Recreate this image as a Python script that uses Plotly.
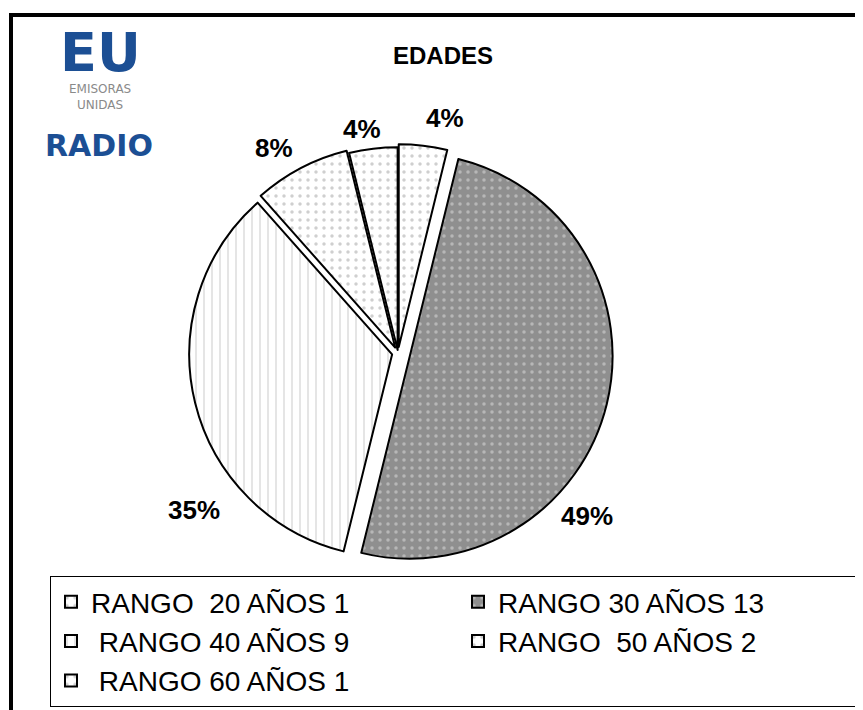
import math
import plotly.graph_objects as go

categories = ["RANGO  20 AÑOS 1", "RANGO 30 AÑOS 13", " RANGO 40 AÑOS 9", "RANGO  50 AÑOS 2", " RANGO 60 AÑOS 1"]
values = [1, 13, 9, 2, 1]
pct_labels = ["4%", "49%", "35%", "8%", "4%"]

pulls = [0.03, 0.06, 0.03, 0.03, 0.015]
bg_colors = ["#ffffff", "#8f8f8f", "#ffffff", "#ffffff", "#ffffff"]
fg_colors = ["#a0a0a0", "#e0e0e0", "#a8a8a8", "#a0a0a0", "#a0a0a0"]
shapes_pat = [".", ".", "|", ".", "."]
# where each percentage label sits: fraction along its slice's arc, distance / radius
label_frac = [0.82, 0.65, 0.31, 0.37, 0.34]
label_dist = [1.18, 1.23, 1.27, 1.18, 1.12]

# page body adds an 8px offset; figure fills the rest of the window
OFF = 8
W, H = 863 - OFF, 710 - OFF


def X(px):
    return (px - OFF) / W


def Y(py):
    return 1 - (py - OFF) / H


PIE_L, PIE_R, PIE_T, PIE_B = 183, 613, 138, 568

fig = go.Figure()
fig.add_trace(go.Pie(
    labels=categories,
    values=values,
    textinfo="none",
    sort=False,
    direction="clockwise",
    rotation=0,
    pull=pulls,
    marker=dict(
        colors=bg_colors,
        line=dict(color="black", width=2),
        pattern=dict(shape=shapes_pat, bgcolor=bg_colors, fgcolor=fg_colors,
                     size=8, solidity=0.15, fillmode="overlay"),
    ),
    domain=dict(x=[X(PIE_L), X(PIE_R)], y=[Y(PIE_B), Y(PIE_T)]),
    hoverinfo="label+percent",
))

# percentage labels placed around the pie from the cumulative values
cx, cy = (PIE_L + PIE_R) / 2, (PIE_T + PIE_B) / 2
radius = (PIE_R - PIE_L) / (2 * (1 + max(pulls)))
total = sum(values)
annotations = []
cum = 0
for v, lab, fr, dist in zip(values, pct_labels, label_frac, label_dist):
    a0 = cum / total * 2 * math.pi
    a1 = (cum + v) / total * 2 * math.pi
    cum += v
    ang = a0 + fr * (a1 - a0)
    px = cx + dist * radius * math.sin(ang)
    py = cy - dist * radius * math.cos(ang)
    annotations.append(dict(text=f"<b>{lab}</b>", x=X(px), y=Y(py), xref="paper", yref="paper",
                            xanchor="center", yanchor="middle", showarrow=False,
                            font=dict(family="Liberation Sans", size=26, color="black")))

annotations += [
    dict(text="<b>EDADES</b>", x=X(443), y=Y(55), xref="paper", yref="paper",
         xanchor="center", yanchor="middle", showarrow=False,
         font=dict(family="Liberation Sans", size=24, color="black")),
    dict(text="<b>EU</b>", x=X(100), y=Y(52), xref="paper", yref="paper",
         xanchor="center", yanchor="middle", showarrow=False, height=46,
         font=dict(family="DejaVu Sans", size=54, color="#1c4f94")),
    dict(text="EMISORAS<br>UNIDAS", x=X(100), y=Y(97), xref="paper", yref="paper",
         xanchor="center", yanchor="middle", showarrow=False, align="center", height=30,
         font=dict(family="DejaVu Sans", size=12, color="#8a8a8a")),
    dict(text="<b>RADIO</b>", x=X(99), y=Y(145), xref="paper", yref="paper",
         xanchor="center", yanchor="middle", showarrow=False,
         font=dict(family="DejaVu Sans", size=30, color="#1c4f94")),
]

fig.update_layout(
    width=W, height=H,
    margin=dict(l=0, r=0, t=0, b=0, autoexpand=False),
    paper_bgcolor="white",
    plot_bgcolor="white",
    showlegend=True,
    legend=dict(
        orientation="h",
        x=X(50), xanchor="left",
        y=Y(576), yanchor="top",
        entrywidth=362,
        bordercolor="black", borderwidth=1,
        bgcolor="white",
        font=dict(family="Liberation Sans", size=28, color="black"),
        traceorder="normal",
    ),
    annotations=annotations,
    shapes=[
        dict(type="rect", xref="paper", yref="paper",
             x0=X(11), x1=1.05, y0=-0.05, y1=Y(15),
             line=dict(color="black", width=4), fillcolor="rgba(0,0,0,0)", layer="below"),
    ],
)

fig.write_html("out.html")
